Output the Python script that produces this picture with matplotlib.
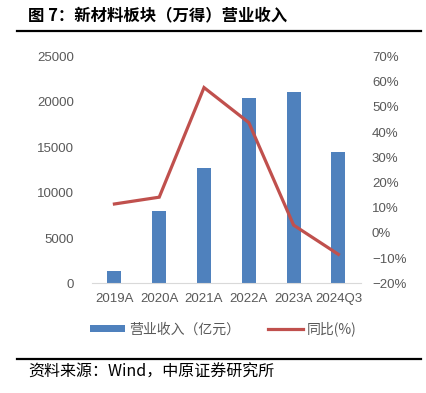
import matplotlib
matplotlib.use("Agg")
import matplotlib.pyplot as plt
from matplotlib.lines import Line2D
from matplotlib.patches import Patch
from matplotlib.ticker import FuncFormatter

plt.rcParams['font.family'] = ['Liberation Sans', 'Noto Sans CJK SC', 'DejaVu Sans']

# 数据
categories = ['2019A', '2020A', '2021A', '2022A', '2023A', '2024Q3']
revenue = [1400, 7950, 12680, 20400, 21120, 14500]      # 营业收入（亿元）
yoy = [11.5, 14.2, 57.7, 43.8, 3.1, -8.5]               # 同比(%)

bar_color = '#4F81BD'
line_color = '#C0504D'
tick_color = '#595959'
cjk = ['Noto Sans CJK SC', 'DejaVu Sans']

fig = plt.figure(figsize=(4.26, 3.93), dpi=100)
ax = fig.add_axes([0.216, 0.279, 0.631, 0.577])
ax2 = ax.twinx()

x = range(len(categories))
ax.bar(x, revenue, width=0.31, color=bar_color, zorder=2)
ax2.plot(x, yoy, color=line_color, linewidth=2.3, solid_joinstyle='miter', zorder=3)

ax.set_xlim(-0.5, len(categories) - 0.5)
ax.set_ylim(0, 25000)
ax.set_yticks(range(0, 25001, 5000))
ax2.set_ylim(-20, 70)
ax2.set_yticks(range(-20, 71, 10))
ax2.yaxis.set_major_formatter(FuncFormatter(lambda v, p: f'{int(v)}%'.replace('-', '\u2212')))

ax.set_xticks(list(x))
ax.set_xticklabels(categories)

for a in (ax, ax2):
    for s in a.spines.values():
        s.set_visible(False)
    a.tick_params(length=0, labelsize=9.5, labelcolor=tick_color)
ax.spines['bottom'].set_visible(True)
ax.spines['bottom'].set_color('#D9D9D9')
ax.tick_params(axis='y', pad=13)
ax.tick_params(axis='x', pad=7)
ax2.tick_params(axis='y', pad=8)
ax.set_zorder(1)
ax2.set_zorder(2)

# 图例
handles = [Patch(facecolor=bar_color, edgecolor='none'),
           Line2D([0], [0], color=line_color, linewidth=2.3)]
leg = fig.legend(handles, ['营业收入（亿元）', '同比(%)'], loc='center',
                 bbox_to_anchor=(0.525, 0.163), ncol=2, frameon=False,
                 handlelength=2.5, handleheight=0.45, handletextpad=0.3,
                 columnspacing=2.0, prop={'family': cjk, 'size': 10})
for t in leg.get_texts():
    t.set_color(tick_color)

# 标题与来源
fig.text(0.066, 0.962, '图 7：新材料板块（万得）营业收入', fontsize=11.8, fontweight='bold',
         family=cjk, va='center', ha='left')
fig.add_artist(Line2D([0.04, 0.988], [0.922, 0.922], color='black', linewidth=1.6,
                      transform=fig.transFigure))
fig.add_artist(Line2D([0.04, 0.988], [0.087, 0.087], color='black', linewidth=1.6,
                      transform=fig.transFigure))
fig.text(0.066, 0.054, '资料来源：Wind，中原证券研究所', fontsize=11.5,
         family=cjk, va='center', ha='left')

fig.savefig('out.png', dpi=100, facecolor='white')
